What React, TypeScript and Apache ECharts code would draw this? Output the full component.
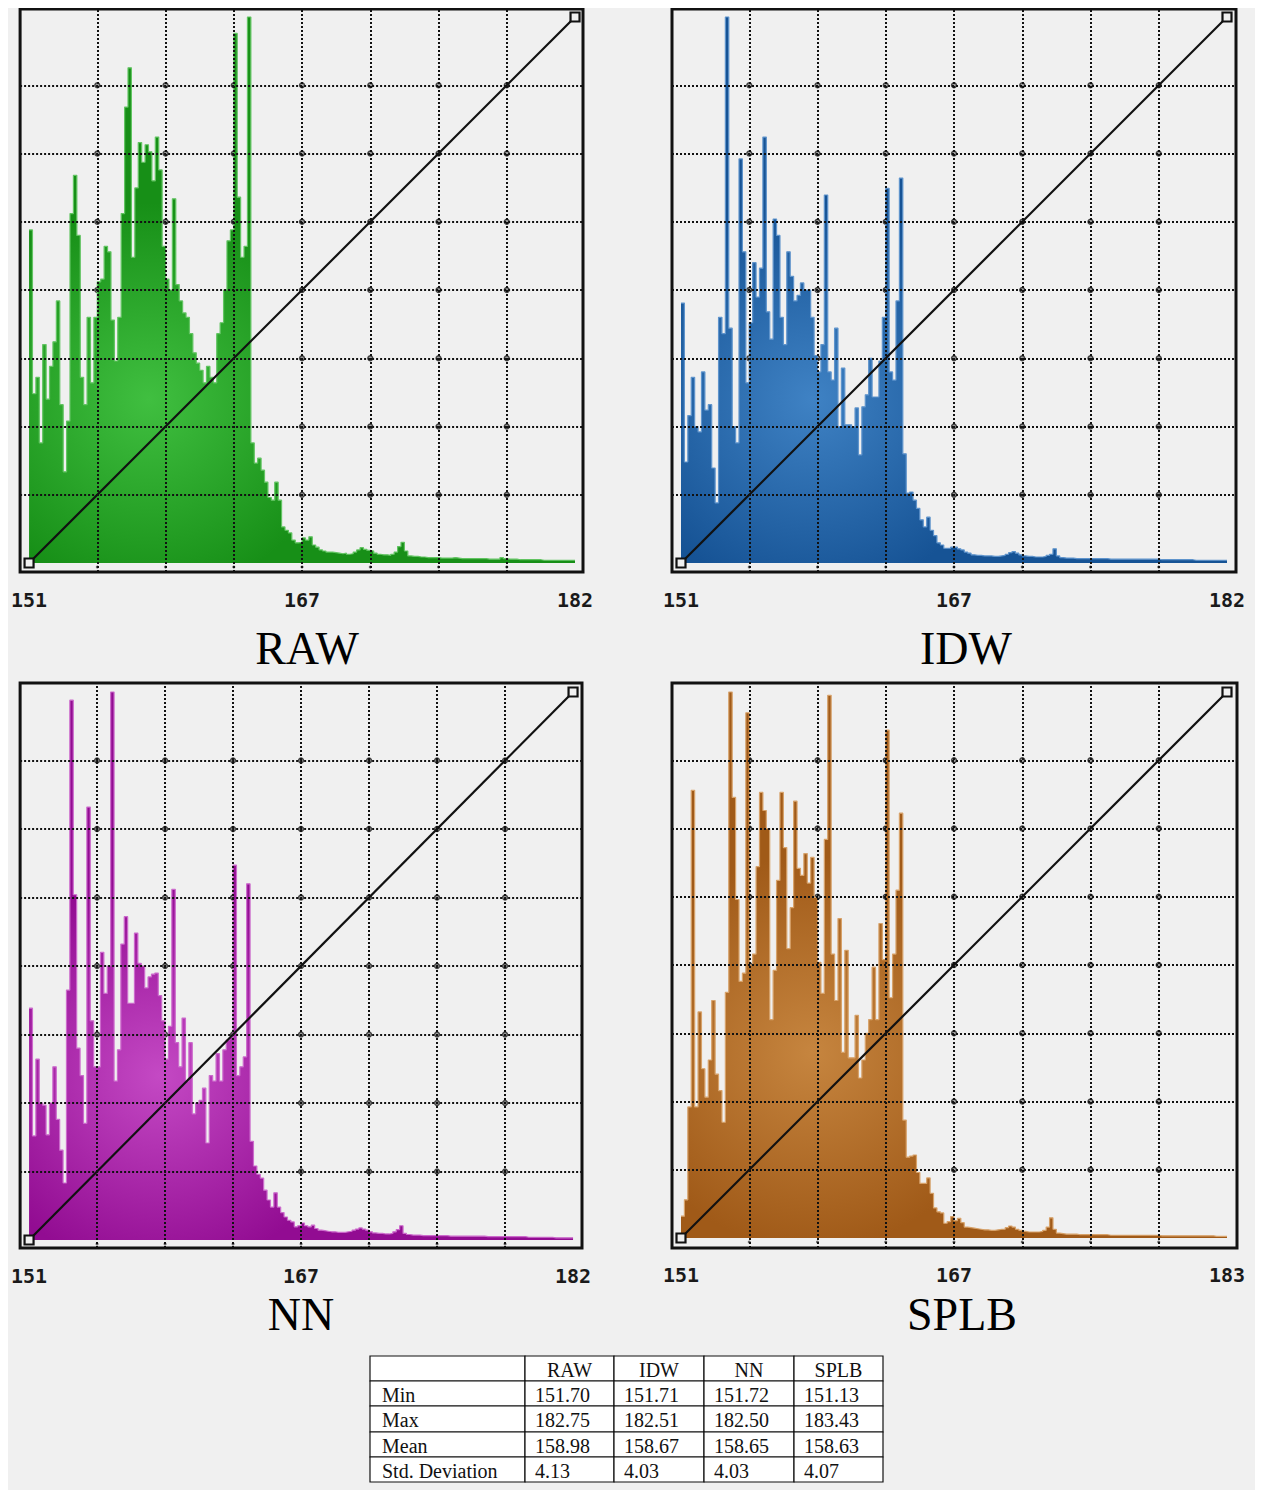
import React, { useEffect, useRef } from "react";
import * as echarts from "echarts";

// ---------------- DATA ----------------
const BIN_COUNT = 160;

const rawCounts = [
  61, 31, 34, 22, 40, 30, 36, 40.5, 48, 29,
  16.7, 26, 64, 71, 60, 34, 29, 45, 33, 45,
  51.5, 52, 58, 57, 44.5, 37, 45, 64, 83.5, 90.7,
  56, 68.7, 77, 73.4, 76.6, 75.3, 70, 78, 72, 58,
  52, 50, 66.7, 51, 48, 45.8, 45, 42, 38.5, 36.6,
  35.3, 33, 36, 34, 33, 42, 44, 50, 59, 61,
  97, 67, 56, 58, 100, 22, 18.3, 19.2, 17, 14.8,
  12, 11.5, 14.8, 11.5, 6.6, 6, 5.5, 4.2, 3.7, 3.8,
  4.6, 4.2, 4.8, 3.3, 2.9, 2.4, 2.2, 2.0, 2.0, 1.9,
  1.8, 1.7, 1.8, 1.6, 1.7, 2.0, 2.4, 2.8, 2.5, 2.3,
  2.2, 1.8, 1.6, 1.5, 1.5, 1.4, 1.6, 2.0, 3.0, 3.8,
  2.2, 1.3, 1.2, 1.2, 1.1, 1.1, 1.0, 1.0, 1.0, 1.0,
  0.9, 0.9, 0.9, 0.9, 1.0, 0.9, 0.8, 0.8, 0.8, 0.8,
  0.8, 0.8, 0.8, 0.8, 0.7, 0.7, 0.7, 0.7, 1.0, 0.8,
  0.7, 0.7, 0.7, 0.6, 0.6, 0.6, 0.6, 0.6, 0.6, 0.6,
  0.5, 0.5, 0.5, 0.5, 0.5, 0.5, 0.5, 0.5, 0.5, 0.5,
];

const idwCounts = [
  47.6, 18.5, 27, 34, 25, 24, 35, 28, 29, 17.4,
  11, 45, 42, 100, 43, 25, 22, 74, 57, 33,
  44, 55, 48.7, 54, 78, 46, 41, 63, 60, 45,
  40, 57, 52.5, 48, 49, 51.3, 50, 50, 45, 38,
  35, 40, 67.4, 35, 33.5, 43, 25, 35.7, 25.3, 25.3,
  25, 28.4, 19.8, 28.6, 30.8, 37.5, 30.4, 30.4, 37, 45,
  68.6, 35, 33.5, 48, 70.5, 20, 12.8, 13, 11.5, 10,
  7.9, 6.6, 8.4, 6, 5, 3.7, 3.3, 2.7, 2.7, 2.9,
  2.9, 2.6, 2.4, 2.0, 1.8, 1.5, 1.4, 1.4, 1.3, 1.3,
  1.3, 1.2, 1.2, 1.3, 1.4, 1.6, 1.9, 2.1, 1.8, 1.5,
  1.3, 1.2, 1.2, 1.1, 1.1, 1.1, 1.2, 1.4, 1.6, 2.6,
  1.3, 1.0, 0.9, 0.9, 0.9, 0.8, 0.8, 0.8, 0.8, 0.8,
  0.8, 0.8, 0.8, 0.8, 0.8, 0.7, 0.7, 0.7, 0.7, 0.7,
  0.7, 0.7, 0.7, 0.7, 0.7, 0.7, 0.7, 0.7, 0.7, 0.7,
  0.6, 0.6, 0.6, 0.6, 0.6, 0.6, 0.6, 0.6, 0.6, 0.6,
  0.5, 0.5, 0.5, 0.5, 0.5, 0.5, 0.5, 0.5, 0.5, 0.5,
];

const nnCounts = [
  42.3, 19, 33, 25, 24.6, 19.2, 25, 31.6, 22, 16.4,
  10.4, 45.6, 98.5, 63, 35, 30, 21.3, 79, 40, 31.6,
  31.6, 52.5, 45, 50, 100, 29, 34.7, 54, 59, 43.2,
  43.2, 56, 50.5, 50, 46, 48, 48.5, 48.7, 44.6, 40,
  33, 39, 64, 36, 31.6, 40.5, 29, 36, 23, 25,
  25.5, 27.7, 17.7, 30, 29, 34, 29, 34.7, 36.5, 37,
  68.4, 30, 31.6, 33.4, 65, 18, 13.5, 12, 11.3, 9.1,
  7.3, 6, 8.6, 6, 5, 4.2, 3.6, 3.3, 2.4, 2.6,
  3.1, 2.6, 2.4, 2.7, 2.1, 1.8, 1.7, 1.6, 1.5, 1.5,
  1.4, 1.4, 1.4, 1.5, 1.6, 1.8, 2.0, 2.2, 2.0, 1.8,
  1.5, 1.3, 1.2, 1.2, 1.1, 1.1, 1.2, 1.5, 1.9, 2.6,
  1.2, 1.0, 0.9, 0.9, 0.9, 0.8, 0.8, 0.8, 0.8, 0.8,
  0.8, 0.8, 0.8, 0.7, 0.7, 0.7, 0.7, 0.7, 0.7, 0.7,
  0.7, 0.7, 0.7, 0.7, 0.6, 0.6, 0.6, 0.6, 0.6, 0.6,
  0.6, 0.6, 0.6, 0.6, 0.6, 0.6, 0.5, 0.5, 0.5, 0.5,
  0.5, 0.5, 0.5, 0.5, 0.4, 0.4, 0.4, 0.4, 0.4, 0.4,
];

const splbCounts = [
  4, 7, 24, 82, 24, 41.4, 31, 25.8, 32.6, 43.5,
  30, 27, 21.2, 45, 100, 80.7, 62, 47, 48.5, 96.2,
  50, 52, 68, 81.6, 78.3, 75, 40, 49, 65.5, 81.6,
  71.5, 53, 60.5, 80, 67.7, 66.4, 70.4, 65, 69.7, 62.4,
  50.5, 44.8, 73, 99.4, 52, 43.5, 58.5, 34, 52.7, 33,
  33, 40.8, 29.3, 32.6, 37.5, 40, 49.6, 40, 57.6, 51,
  93, 44, 52, 63.7, 77.8, 21.6, 14.8, 15, 15.2, 12,
  10, 10, 11, 8.2, 5.5, 4.8, 4.6, 2.7, 3, 3.9,
  3.2, 3.6, 2.8, 2, 1.9, 1.8, 1.7, 1.6, 1.5, 1.5,
  1.4, 1.4, 1.5, 1.6, 1.6, 1.9, 2.2, 2.0, 1.6, 1.4,
  1.2, 1.1, 1.1, 1.1, 1.1, 1.2, 1.4, 2.0, 3.7, 1.6,
  0.9, 0.8, 0.7, 0.7, 0.7, 0.7, 0.6, 0.6, 0.6, 0.6,
  0.6, 0.6, 0.6, 0.6, 0.6, 0.5, 0.5, 0.5, 0.5, 0.5,
  0.5, 0.5, 0.5, 0.5, 0.5, 0.5, 0.5, 0.5, 0.5, 0.5,
  0.4, 0.4, 0.4, 0.4, 0.4, 0.4, 0.4, 0.4, 0.4, 0.4,
  0.4, 0.4, 0.4, 0.4, 0.4, 0.4, 0.3, 0.3, 0.3, 0.3,
];

const panelTitles = ["RAW", "IDW", "NN", "SPLB"];
const rawTickLabels = ["151", "167", "182"];
const idwTickLabels = ["151", "167", "182"];
const nnTickLabels = ["151", "167", "182"];
const splbTickLabels = ["151", "167", "183"];
const labelBins = [0, 80, 160];
const gridBins = [20, 40, 60, 80, 100, 120, 140];
const gridLevels = [12.5, 25, 37.5, 50, 62.5, 75, 87.5];
const curveIn = [0, 1];
const curveOut = [0, 1];

const tableColumns = ["RAW", "IDW", "NN", "SPLB"];
const tableRowNames = ["Min", "Max", "Mean", "Std. Deviation"];
const rawStats = ["151.70", "182.75", "158.98", "4.13"];
const idwStats = ["151.71", "182.51", "158.67", "4.03"];
const nnStats = ["151.72", "182.50", "158.65", "4.03"];
const splbStats = ["151.13", "183.43", "158.63", "4.07"];

// ---------------- LAYOUT / STYLE ----------------
const W = 1247;
const H = 1482;
const BG = "#f0f0f0";

type Box = { l: number; t: number; r: number; b: number };
type Panel = {
  title: string;
  counts: number[];
  labels: string[];
  frame: Box;
  plot: Box;
  light: string;
  dark: string;
  edge: string;
  grad: [number, number, number];
  titlePos: [number, number];
  labelMargin: number;
};

const panels: Panel[] = [
  {
    title: panelTitles[0], counts: rawCounts, labels: rawTickLabels,
    frame: { l: 10, t: 1, r: 575, b: 564 }, plot: { l: 19, t: 9, r: 567, b: 555 },
    light: "#40bf40", dark: "#178f17", edge: "#62c462", grad: [0.22, 0.7, 0.36],
    titlePos: [299, 640], labelMargin: 18,
  },
  {
    title: panelTitles[1], counts: idwCounts, labels: idwTickLabels,
    frame: { l: 664, t: 1, r: 1228, b: 564 }, plot: { l: 673, t: 9, r: 1219, b: 555 },
    light: "#3f82c4", dark: "#165395", edge: "#5f94cc", grad: [0.24, 0.7, 0.36],
    titlePos: [958, 640], labelMargin: 18,
  },
  {
    title: panelTitles[2], counts: nnCounts, labels: nnTickLabels,
    frame: { l: 9, t: 675, r: 574, b: 1240 }, plot: { l: 18, t: 684, r: 565, b: 1232 },
    light: "#c449c4", dark: "#920c92", edge: "#cc6acc", grad: [0.24, 0.7, 0.36],
    titlePos: [293, 1306], labelMargin: 18,
  },
  {
    title: panelTitles[3], counts: splbCounts, labels: splbTickLabels,
    frame: { l: 664, t: 675, r: 1229, b: 1240 }, plot: { l: 673, t: 684, r: 1219, b: 1230 },
    light: "#c6853f", dark: "#a05a18", edge: "#d7a26a", grad: [0.24, 0.66, 0.36],
    titlePos: [954, 1306], labelMargin: 17,
  },
];

const tableX = [362, 517, 606, 696, 786, 875];
const tableY = [1348, 1373, 1398, 1424, 1449, 1474];
const tableFont = '20px "Liberation Serif", "Times New Roman", serif';

function buildOption() {
  const grid: any[] = [];
  const xAxis: any[] = [];
  const yAxis: any[] = [];
  const series: any[] = [];
  const graphic: any[] = [];

  panels.forEach((p, k) => {
    const pxX = (p.plot.r - p.plot.l) / BIN_COUNT;
    const pxY = (p.plot.b - p.plot.t) / 100;
    const xmin = -(p.plot.l - p.frame.l) / pxX;
    const xmax = BIN_COUNT + (p.frame.r - p.plot.r) / pxX;
    const ymin = -(p.frame.b - p.plot.b) / pxY;
    const ymax = 100 + (p.plot.t - p.frame.t) / pxY;

    grid.push({
      left: p.frame.l,
      top: p.frame.t,
      width: p.frame.r - p.frame.l,
      height: p.frame.b - p.frame.t,
      show: true,
      backgroundColor: BG,
      borderColor: "#111",
      borderWidth: 3,
    });
    xAxis.push({
      gridIndex: k,
      type: "value",
      min: xmin,
      max: xmax,
      axisLine: { show: false },
      axisTick: { show: false },
      splitLine: { show: false },
      axisLabel: {
        show: true,
        customValues: labelBins,
        formatter: (v: number) => {
          const idx = labelBins.findIndex((b) => Math.abs(b - v) < 1e-6);
          return idx >= 0 ? p.labels[idx] : "";
        },
        margin: p.labelMargin,
        fontFamily: '"DejaVu Sans Mono", "Liberation Mono", monospace',
        fontWeight: "bold",
        fontSize: 20,
        lineHeight: 20,
        color: "#1a1a1a",
        showMinLabel: true,
        showMaxLabel: true,
      },
    });
    yAxis.push({
      gridIndex: k,
      type: "value",
      min: ymin,
      max: ymax,
      axisLine: { show: false },
      axisTick: { show: false },
      axisLabel: { show: false },
      splitLine: { show: false },
    });

    const gridLines: any[] = [
      ...gridBins.map((b) => [{ coord: [b, ymin] }, { coord: [b, ymax] }]),
      ...gridLevels.map((lv) => [{ coord: [xmin, lv] }, { coord: [xmax, lv] }]),
    ];
    const crossings: number[][] = [];
    gridBins.forEach((b) => gridLevels.forEach((lv) => crossings.push([b, lv])));

    series.push({
      type: "scatter",
      xAxisIndex: k,
      yAxisIndex: k,
      z: 1,
      silent: true,
      symbol: "circle",
      symbolSize: 5,
      itemStyle: { color: "#888", borderColor: "#222", borderWidth: 1.4 },
      data: crossings,
      markLine: {
        silent: true,
        symbol: ["none", "none"],
        label: { show: false },
        lineStyle: { color: "#111", width: 2, type: [2, 2], opacity: 1 },
        emphasis: { disabled: true },
        data: gridLines,
      },
    });
    series.push({
      type: "scatter",
      xAxisIndex: k,
      yAxisIndex: k,
      z: 1,
      silent: true,
      symbol: "circle",
      symbolSize: 3,
      itemStyle: { color: "#444" },
      data: gridBins.map((b) => [b, -4 / pxY]),
    });

    const histData = p.counts.map((v, i) => [i, v]);
    histData.push([BIN_COUNT, p.counts[BIN_COUNT - 1]]);
    series.push({
      type: "line",
      xAxisIndex: k,
      yAxisIndex: k,
      z: 2,
      step: "end",
      symbol: "none",
      silent: true,
      lineStyle: { color: p.edge, width: 1.2 },
      areaStyle: {
        opacity: 1,
        color: new echarts.graphic.RadialGradient(p.grad[0], p.grad[1], p.grad[2], [
          { offset: 0, color: p.light },
          { offset: 1, color: p.dark },
        ]),
      },
      data: histData,
    });

    series.push({
      type: "line",
      xAxisIndex: k,
      yAxisIndex: k,
      z: 3,
      silent: true,
      symbol: "rect",
      symbolSize: 9,
      showAllSymbol: true,
      itemStyle: { color: BG, borderColor: "#111", borderWidth: 2.2 },
      lineStyle: { color: "#111", width: 2.2 },
      data: curveIn.map((c, i) => [c * BIN_COUNT, curveOut[i] * 100]),
    });

    graphic.push({
      type: "text",
      x: p.titlePos[0],
      y: p.titlePos[1],
      silent: true,
      style: {
        text: p.title,
        font: '46px "Liberation Serif", "Times New Roman", serif',
        fill: "#000",
        textAlign: "center",
        textVerticalAlign: "middle",
        align: "center",
        verticalAlign: "middle",
      },
    });
  });

  // table
  const statCols = [rawStats, idwStats, nnStats, splbStats];
  for (let r = 0; r < tableY.length - 1; r++) {
    for (let c = 0; c < tableX.length - 1; c++) {
      graphic.push({
        type: "rect",
        silent: true,
        shape: {
          x: tableX[c],
          y: tableY[r],
          width: tableX[c + 1] - tableX[c],
          height: tableY[r + 1] - tableY[r],
        },
        style: { fill: "#ffffff", stroke: "#111", lineWidth: 1.2 },
      });
    }
  }
  const textStyle = (text: string, align: string) => ({
    text,
    font: tableFont,
    fill: "#111",
    textAlign: align,
    textVerticalAlign: "middle",
    align,
    verticalAlign: "middle",
  });
  tableColumns.forEach((name, c) => {
    graphic.push({
      type: "text",
      silent: true,
      x: (tableX[c + 1] + tableX[c + 2]) / 2,
      y: (tableY[0] + tableY[1]) / 2 + 1,
      style: textStyle(name, "center"),
    });
  });
  tableRowNames.forEach((name, r) => {
    graphic.push({
      type: "text",
      silent: true,
      x: tableX[0] + 12,
      y: (tableY[r + 1] + tableY[r + 2]) / 2 + 1,
      style: textStyle(name, "left"),
    });
    statCols.forEach((col, c) => {
      graphic.push({
        type: "text",
        silent: true,
        x: tableX[c + 1] + 10,
        y: (tableY[r + 1] + tableY[r + 2]) / 2 + 1,
        style: textStyle(col[r], "left"),
      });
    });
  });

  return {
    animation: false,
    backgroundColor: BG,
    grid,
    xAxis,
    yAxis,
    series,
    graphic,
  };
}

export default function App() {
  const ref = useRef<HTMLDivElement>(null);
  useEffect(() => {
    if (!ref.current) return;
    const chart = echarts.init(ref.current, null, { renderer: "svg" });
    chart.setOption(buildOption() as any);
    return () => chart.dispose();
  }, []);
  return <div ref={ref} style={{ width: W, height: H }} />;
}
